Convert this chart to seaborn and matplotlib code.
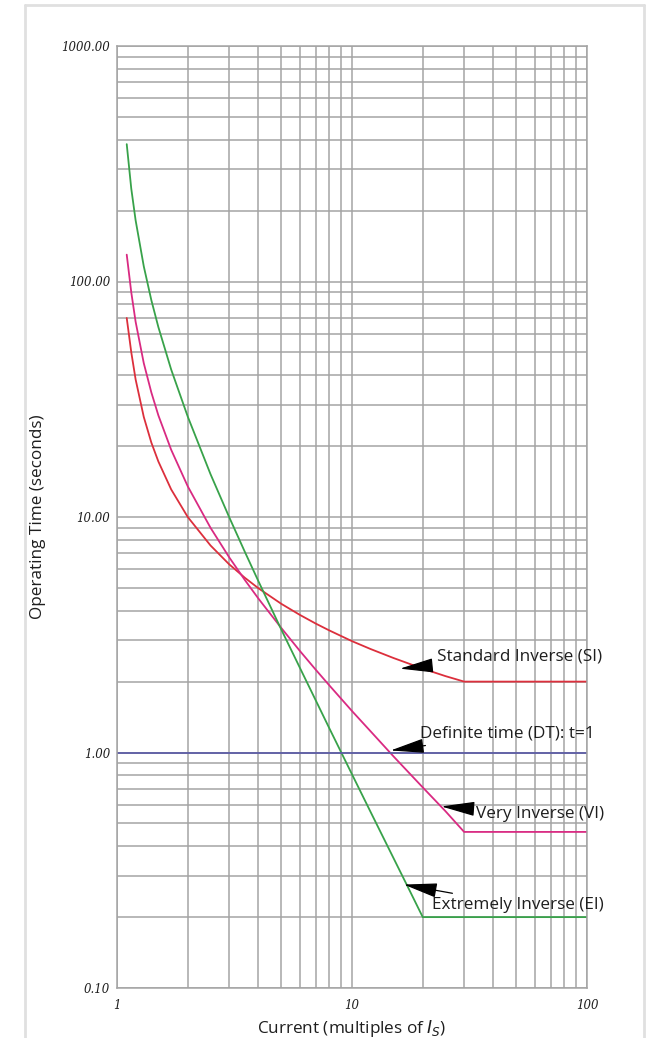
import matplotlib
matplotlib.use("Agg")
import matplotlib.pyplot as plt
import matplotlib.ticker as mticker
from matplotlib.lines import Line2D
import seaborn as sns
import numpy as np
import pandas as pd

# values (current in multiples of Is, time in s)
si_current = [1.1, 1.15, 1.2, 1.3, 1.4, 1.5, 1.7, 2, 2.5, 3, 3.5, 4, 5, 6, 7, 8, 10, 12, 15, 20, 25, 30, 100]
si_time = [70, 50.1, 38.4, 26.6, 20.7, 17.2, 13.1, 10.0, 7.57, 6.30, 5.52, 4.98, 4.28, 3.84, 3.53,
           3.30, 2.97, 2.75, 2.52, 2.27, 2.11, 2.0, 2.0]

vi_current = [1.1, 1.15, 1.2, 1.3, 1.4, 1.5, 1.7, 2, 2.5, 3, 3.5, 4, 5, 6, 7, 8, 10, 12, 15, 20, 25, 30, 100]
vi_time = [130, 90, 67.5, 45, 33.8, 27, 19.3, 13.5, 9.0, 6.75, 5.4, 4.5, 3.38, 2.7, 2.25, 1.93,
           1.5, 1.23, 0.964, 0.711, 0.563, 0.46, 0.46]

ei_current = [1.1, 1.15, 1.2, 1.3, 1.4, 1.5, 1.7, 2, 2.5, 3, 3.5, 4, 5, 6, 7, 8, 10, 12, 15, 17.5, 20, 100]
ei_time = [383, 248, 182, 116, 83.3, 64, 42.3, 26.7, 15.2, 10.0, 7.11, 5.33, 3.33, 2.29, 1.67,
           1.27, 0.808, 0.559, 0.357, 0.262, 0.2, 0.2]

dt_current = [1, 100]
dt_time = [1, 1]

y_ticks = [0.1, 1, 10, 100, 1000]
y_ticklabels = ["0.10", "1.00", "10.00", "100.00", "1000.00"]
x_ticks = [1, 10, 100]
x_ticklabels = ["1", "10", "100"]

frames = []
for name, cur, t in [("SI", si_current, si_time), ("VI", vi_current, vi_time),
                     ("EI", ei_current, ei_time), ("DT", dt_current, dt_time)]:
    frames.append(pd.DataFrame({"current": cur, "time": t, "curve": name}))
df = pd.concat(frames, ignore_index=True)

palette = {"SI": "#dc2f3c", "VI": "#d92a82", "EI": "#38a24a", "DT": "#5c5ca6"}

sns.set_style("white")
label_font = "Open Sans"
text_color = "#1e1e1e"

fig = plt.figure(figsize=(6.48, 10.38), dpi=100)
ax = fig.add_axes([117 / 648, 1 - 988 / 1038, 470 / 648, 942 / 1038])

sns.lineplot(data=df, x="current", y="time", hue="curve", palette=palette,
             sort=False, estimator=None, legend=False, linewidth=1.3, ax=ax)

ax.set_xscale("log")
ax.set_yscale("log")
ax.set_xlim(1, 100)
ax.set_ylim(0.1, 1000)

ax.xaxis.set_minor_locator(mticker.LogLocator(base=10, subs=np.arange(2, 10)))
ax.yaxis.set_minor_locator(mticker.LogLocator(base=10, subs=np.arange(2, 10)))
ax.xaxis.set_minor_formatter(mticker.NullFormatter())
ax.yaxis.set_minor_formatter(mticker.NullFormatter())
ax.set_xticks(x_ticks)
ax.set_xticklabels(x_ticklabels)
ax.set_yticks(y_ticks)
ax.set_yticklabels(y_ticklabels)

ax.grid(True, which="both", color="#a4a4a4", linewidth=1.1)
ax.set_axisbelow(True)
for s in ax.spines.values():
    s.set_color("#a4a4a4")
    s.set_linewidth(1.1)

ax.tick_params(which="both", length=0)
ax.tick_params(axis="y", pad=5)
ax.tick_params(axis="x", pad=8)
for lab in ax.get_xticklabels() + ax.get_yticklabels():
    lab.set_family("DejaVu Serif")
    lab.set_style("italic")
    lab.set_fontsize(8.5)
    lab.set_color(text_color)

ax.set_xlabel(r"Current (multiples of $I_S$)", family=label_font, fontsize=12.3, color=text_color)
ax.set_ylabel("Operating Time (seconds)", family=label_font, fontsize=12.3, color=text_color)
ax.yaxis.set_label_coords(-0.152, 0.5)
ax.xaxis.set_label_coords(0.5, -0.032)

arrow = dict(arrowstyle="-|>,head_length=2.1,head_width=0.45", color="black",
             lw=0.9, shrinkA=2, shrinkB=0, mutation_scale=10)
notes = [
    ("Standard Inverse (SI)", (16.0, 2.27), (23.0, 2.55)),
    ("Definite time (DT): t=1", (14.6, 1.02), (19.5, 1.2)),
    ("Very Inverse (VI)", (24.0, 0.59), (33.6, 0.55)),
    ("Extremely Inverse (EI)", (16.6, 0.275), (21.9, 0.225)),
]
for text, tip, tail in notes:
    ax.annotate(text, xy=tip, xytext=tail, ha="left", va="center",
                family=label_font, fontsize=12.3, color=text_color, arrowprops=arrow)

# light page frame
frame = dict(transform=fig.transFigure, color="#e0e0e0", lw=2)
fig.add_artist(Line2D([25 / 648, 25 / 648], [0, 1 - 5 / 1038], **frame))
fig.add_artist(Line2D([25 / 648, 644 / 648], [1 - 5 / 1038, 1 - 5 / 1038], **frame))
fig.add_artist(Line2D([644 / 648, 644 / 648], [0, 1 - 5 / 1038], **frame))

fig.savefig("out.png", dpi=100)
plt.close(fig)
